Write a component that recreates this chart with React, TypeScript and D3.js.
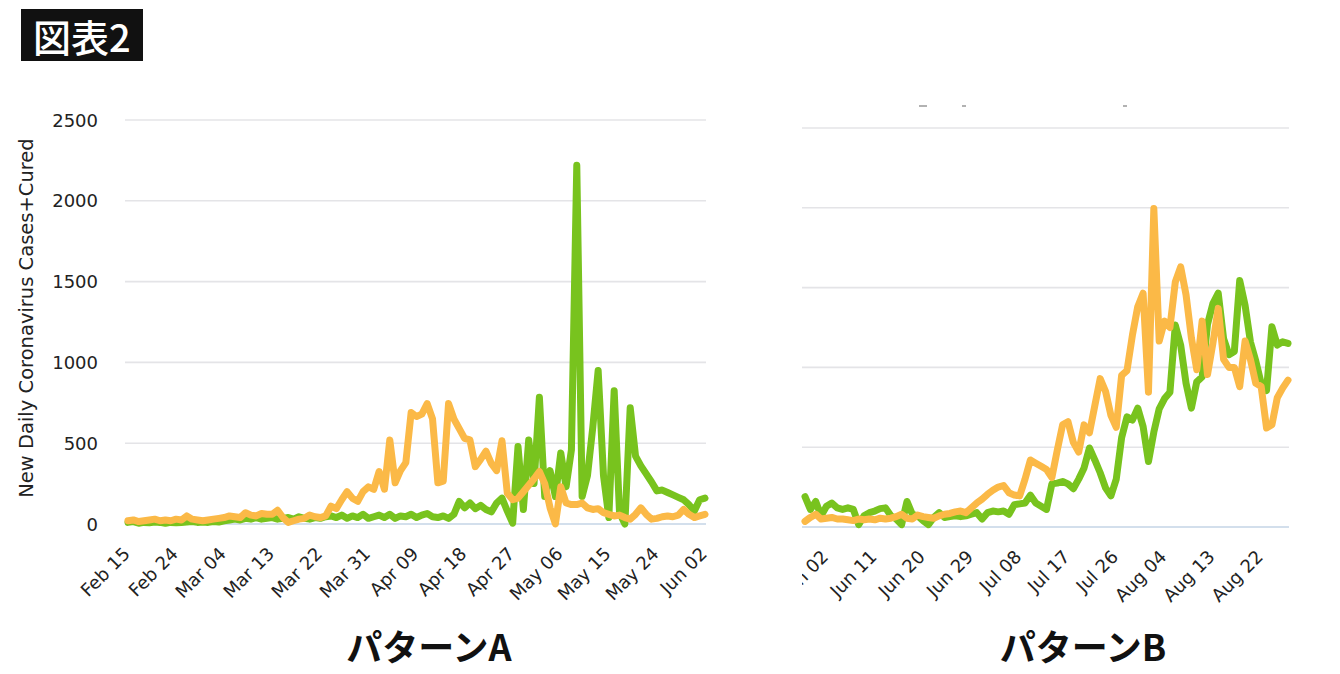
import { scaleLinear, scaleTime, line, timeDay, timeFormat, timeParse } from "d3";

// daily values (green = cases, orange = cured)
const leftStart = "2020-02-15";
const leftGreen = [
  10, 15, 5, 10, 8, 12, 10, 5, 10, 8, 10, 12, 15, 10, 12, 10, 15, 12,
  20, 25, 30, 25, 35, 30, 40, 30, 35, 40, 30, 35, 40, 30, 45, 35, 30, 40, 35,
  45, 50, 40, 55, 35, 50, 40, 60, 35, 45, 55, 40, 60, 35, 50, 45, 60, 40, 55, 65, 45, 40, 50, 35,
  60, 140, 100, 130, 95, 115, 90, 75, 130, 160, 80, 5, 480, 90, 520, 250, 785, 170, 330, 170,
  440, 230, 460, 2220, 170, 300, 600, 950, 300, 40, 825, 70, 0, 720, 420, 360, 310, 260, 205,
  210, 195, 180, 165, 150, 120, 80, 150, 160,
];
const leftOrange = [
  20, 25, 15, 20, 25, 30, 20, 25, 20, 30, 25,
  50, 30, 25, 20, 25, 30, 35, 40, 50, 45, 40, 70, 55, 50, 65, 60, 60, 85, 40, 10, 20, 30, 35, 55, 45, 40, 50,
  110, 95, 150, 200, 160, 140, 200, 230, 215, 325, 215, 520, 255, 330, 380, 690, 665, 680, 745, 650,
  255, 265, 745, 650, 590, 530, 520, 355, 400, 450, 375, 330, 515, 190, 150, 160, 200, 240, 280, 325, 250,
  100, 0, 230, 130, 120, 120, 130, 100, 90, 95, 70, 60, 50, 55, 40, 30, 60, 100, 60, 30, 35, 45, 50, 45,
  55, 90, 60, 40, 50, 60,
];
const leftTicks = [
  "2020-02-15", "2020-02-24", "2020-03-04", "2020-03-13", "2020-03-22", "2020-03-31", "2020-04-09",
  "2020-04-18", "2020-04-27", "2020-05-06", "2020-05-15", "2020-05-24", "2020-06-02",
];

const rightStart = "2020-05-29";
const rightGreen = [
  190, 110, 160, 70, 130, 150, 120, 110, 120, 110, 15, 70, 90, 100, 115, 120, 70, 50, 15, 160,
  80, 70, 40, 15, 60, 90, 60, 65, 70, 65, 70, 80, 90, 50, 90, 100, 95, 100, 80, 140,
  145, 150, 200, 150, 130, 110, 270, 275, 285, 270, 240, 300, 370, 495, 420, 340, 245, 195, 300, 560,
  690, 670, 745, 630, 410, 595, 740, 805, 845, 1265, 1140, 900, 745, 910, 940, 1270, 1400, 1465, 1180, 1080,
  1100, 1545, 1390, 1160, 1040, 900, 855, 1255, 1140, 1160, 1150,
];
const rightOrange = [
  35, 60, 80, 50, 55, 60, 50, 50, 45, 40, 50, 45, 50, 45, 55, 50, 55, 65, 80, 55,
  50, 75, 65, 60, 55, 70, 80, 85, 95, 100, 90, 120, 150, 175, 205, 230, 250, 260, 215, 200,
  195, 300, 420, 400, 380, 360, 310, 480, 640, 660, 530, 470, 640, 590, 760, 930, 850, 700, 625, 950,
  980, 1200, 1380, 1465, 845, 1995, 1165, 1290, 1250, 1535, 1630, 1455, 1185, 985, 1290, 955, 1150, 1370, 1050, 1000,
  1000, 880, 1165, 1050, 900, 880, 620, 640, 810, 870, 920,
];
const rightTicks = [
  "2020-06-02", "2020-06-11", "2020-06-20", "2020-06-29", "2020-07-08", "2020-07-17", "2020-07-26",
  "2020-08-04", "2020-08-13", "2020-08-22",
];

const yTicks = [0, 500, 1000, 1500, 2000, 2500];
const yTitle = "New Daily Coronavirus Cases+Cured";
const panelTitles = ["パターンA", "パターンB"];
const figTitle = "図表2";

const GREEN = "#78c31e";
const ORANGE = "#fbb947";
const font = "'DejaVu Sans', sans-serif";
const jpFont = "'Noto Sans CJK JP', sans-serif";

const parse = timeParse("%Y-%m-%d");
const fmt = timeFormat("%b %d");

type Pt = { date: Date; value: number };

type PanelProps = {
  id: string;
  start: string;
  green: number[];
  orange: number[];
  ticks: string[];
  left: number;
  right: number;
  top: number;
  base: number;
  yAxis: boolean;
  clipX: number | null;
};

function Panel({ id, start, green, orange, ticks, left, right, top, base, yAxis, clipX }: PanelProps) {
  const s = parse(start)!;
  const toPts = (arr: number[]): Pt[] => arr.map((v, i) => ({ date: timeDay.offset(s, i), value: v }));
  const g = toPts(green);
  const o = toPts(orange);

  const x = scaleTime()
    .domain([s, timeDay.offset(s, green.length - 1)])
    .range([left, right]);
  const y = scaleLinear().domain([0, 2500]).range([base, top]);

  const path = line<Pt>()
    .x((d) => x(d.date))
    .y((d) => y(d.value));

  const gridLeft = left - 3;
  const gridRight = right + 1;

  return (
    <g>
      {clipX !== null && (
        <defs>
          <clipPath id={id}>
            <rect x={clipX} y={0} width={1340 - clipX} height={674} />
          </clipPath>
        </defs>
      )}
      {yTicks.map((t) => (
        <line
          key={t}
          x1={gridLeft}
          x2={gridRight}
          y1={y(t)}
          y2={y(t)}
          stroke={t === 0 ? "#c5d4e6" : "#e4e4e7"}
          strokeWidth={1.6}
        />
      ))}
      {yAxis &&
        yTicks.map((t) => (
          <text key={t} x={98} y={y(t) + 6.5} textAnchor="end" fontFamily={font} fontSize={18} fill="#222">
            {t}
          </text>
        ))}
      <g clipPath={clipX !== null ? `url(#${id})` : undefined}>
        {ticks.map((t) => {
          const d = parse(t)!;
          return (
            <text
              key={t}
              transform={`translate(${x(d) + 3},${base + 31}) rotate(-45)`}
              textAnchor="end"
              fontFamily={font}
              fontSize={18}
              fill="#222"
            >
              {fmt(d)}
            </text>
          );
        })}
      </g>
      <path d={path(g) ?? ""} fill="none" stroke={GREEN} strokeWidth={7} strokeLinejoin="round" strokeLinecap="round" />
      <path d={path(o) ?? ""} fill="none" stroke={ORANGE} strokeWidth={7} strokeLinejoin="round" strokeLinecap="round" />
    </g>
  );
}

export default function App() {
  return (
    <svg
      width={1340}
      height={674}
      viewBox="0 0 1340 674"
      style={{ position: "absolute", left: 0, top: 0, background: "#fff" }}
    >
      <rect x={0} y={0} width={1340} height={674} fill="#fff" />
      <rect x={21} y={9} width={122} height={52} fill="#111" />
      <text x={33} y={52} fontFamily={jpFont} fontSize={38} fontWeight={500} fill="#fff">
        {figTitle}
      </text>

      {/* cropped remains of the right panel's title */}
      <g stroke="#999" strokeWidth={1.5}>
        <line x1={919} x2={927} y1={106} y2={106} />
        <line x1={962} x2={966} y1={106} y2={106} />
        <line x1={1123} x2={1127} y1={106} y2={106} />
      </g>

      <text
        transform="translate(33,318) rotate(-90)"
        textAnchor="middle"
        fontFamily={font}
        fontSize={19.5}
        fill="#222"
      >
        {yTitle}
      </text>

      <Panel
        id="clipA"
        start={leftStart}
        green={leftGreen}
        orange={leftOrange}
        ticks={leftTicks}
        left={128}
        right={705}
        top={120}
        base={524}
        yAxis={true}
        clipX={null}
      />
      <Panel
        id="clipB"
        start={rightStart}
        green={rightGreen}
        orange={rightOrange}
        ticks={rightTicks}
        left={805}
        right={1288}
        top={128}
        base={527}
        yAxis={false}
        clipX={802}
      />

      <text x={429} y={661} textAnchor="middle" fontFamily={jpFont} fontSize={36} fontWeight={700} fill="#111">
        {panelTitles[0]}
      </text>
      <text x={1083} y={661} textAnchor="middle" fontFamily={jpFont} fontSize={36} fontWeight={700} fill="#111">
        {panelTitles[1]}
      </text>
    </svg>
  );
}
